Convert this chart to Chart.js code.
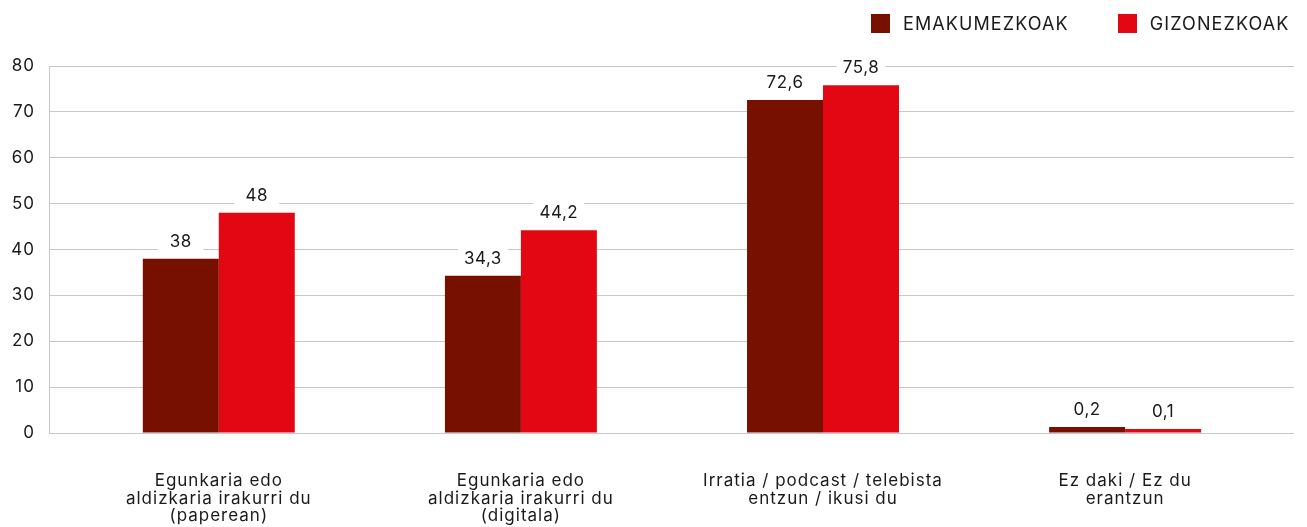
<!DOCTYPE html>
<html>
<head>
<meta charset="utf-8">
<script src="https://cdn.jsdelivr.net/npm/chart.js@4/dist/chart.umd.min.js"></script>
<style>
  html, body { margin: 0; padding: 0; background: #fff; }
  body { width: 1307px; height: 527px; position: relative; overflow: hidden; font-family: Inter, "Noto Sans", sans-serif; }
  #wrap { position: absolute; left: 0; top: 0; width: 1307px; height: 527px; }
  .legend { position: absolute; top: 13px; left: 871px; display: flex; align-items: center; font-size: 18px; color: #1a1a1a; letter-spacing: 1.1px; }
  .legend .sw { width: 19px; height: 19px; margin-right: 13px; }
  .legend .item { display: flex; align-items: center; margin-right: 49px; }
  .legend .item:last-child { margin-right: 0; }
</style>
</head>
<body>
<div id="wrap"><canvas id="mediaChart" width="1307" height="527"></canvas></div>
<div class="legend">
  <div class="item"><span class="sw" style="background:#781000"></span>EMAKUMEZKOAK</div>
  <div class="item"><span class="sw" style="background:#e30613"></span>GIZONEZKOAK</div>
</div>
<script>
// categories (multi-line labels)
const categories = [
  ['Egunkaria edo', 'aldizkaria irakurri du', '(paperean)'],
  ['Egunkaria edo', 'aldizkaria irakurri du', '(digitala)'],
  ['Irratia / podcast / telebista', 'entzun / ikusi du'],
  ['Ez daki / Ez du', 'erantzun']
];
const seriesNames = ['EMAKUMEZKOAK', 'GIZONEZKOAK'];
const emakumezkoak = [38, 34.3, 72.6, 0.2];
const gizonezkoak = [48, 44.2, 75.8, 0.1];
const yTicks = [0, 10, 20, 30, 40, 50, 60, 70, 80];

const FONT = 'Inter, "Noto Sans", sans-serif';
const TEXT = '#1a1a1a';

const toPoints = vals => vals.map((v, i) => ({ x: i, y: v }));
const fmt = v => String(v).replace('.', ',');

// wider tracking for all axis text
const tracking = {
    id: 'tracking',
    beforeDraw(chart) { chart.ctx.letterSpacing = '1px'; }
};

// value labels on a white plate above each bar
const valueLabels = {
    id: 'valueLabels',
    afterDatasetsDraw(chart) {
        const ctx = chart.ctx;
        ctx.save();
        ctx.letterSpacing = '0.5px';
        ctx.font = '17px ' + FONT;
        ctx.textAlign = 'center';
        ctx.textBaseline = 'middle';
        chart.data.datasets.forEach((ds, di) => {
            const meta = chart.getDatasetMeta(di);
            meta.data.forEach((bar, i) => {
                const txt = fmt(ds.data[i].y);
                const cy = bar.y - 17;
                const w = Math.max(ctx.measureText(txt).width + 12, 45);
                ctx.fillStyle = '#fff';
                ctx.fillRect(bar.x - w / 2, cy - 13, w, 26);
                ctx.fillStyle = TEXT;
                ctx.fillText(txt, bar.x, cy);
            });
        });
        ctx.restore();
    }
};

const ctx = document.getElementById('mediaChart').getContext('2d');
new Chart(ctx, {
    type: 'bar',
    data: {
        datasets: [{
            label: seriesNames[0],
            data: toPoints(emakumezkoak),
            backgroundColor: '#781000',
            minBarLength: 6,
            categoryPercentage: 0.503,
            barPercentage: 1
        }, {
            label: seriesNames[1],
            data: toPoints(gizonezkoak),
            backgroundColor: '#e30613',
            minBarLength: 4,
            categoryPercentage: 0.503,
            barPercentage: 1
        }]
    },
    options: {
        responsive: false,
        animation: false,
        devicePixelRatio: 1,
        layout: { padding: { top: 66, right: 13, bottom: 0, left: 0 } },
        plugins: { legend: { display: false }, tooltip: { enabled: false } },
        scales: {
            x: {
                type: 'linear',
                offset: false,
                min: -0.562,
                max: 3.559,
                grid: { display: false },
                border: { display: false },
                afterBuildTicks: s => { s.ticks = categories.map((_, i) => ({ value: i })); },
                afterFit: s => { s.height = 94; },
                ticks: {
                    autoSkip: false,
                    maxRotation: 0,
                    padding: 31,
                    color: TEXT,
                    font: { family: FONT, size: 17, lineHeight: 1.04 },
                    callback: v => categories[v]
                }
            },
            y: {
                min: 0,
                max: 80,
                afterBuildTicks: s => { s.ticks = yTicks.map(v => ({ value: v })); },
                afterFit: s => { s.width = 49; },
                grid: { color: '#c8c8c8', lineWidth: 1, drawTicks: false },
                border: { display: true, color: '#c8c8c8' },
                ticks: {
                    padding: 14,
                    color: TEXT,
                    font: { family: FONT, size: 17 }
                }
            }
        }
    },
    plugins: [tracking, valueLabels]
});
</script>
</body>
</html>
